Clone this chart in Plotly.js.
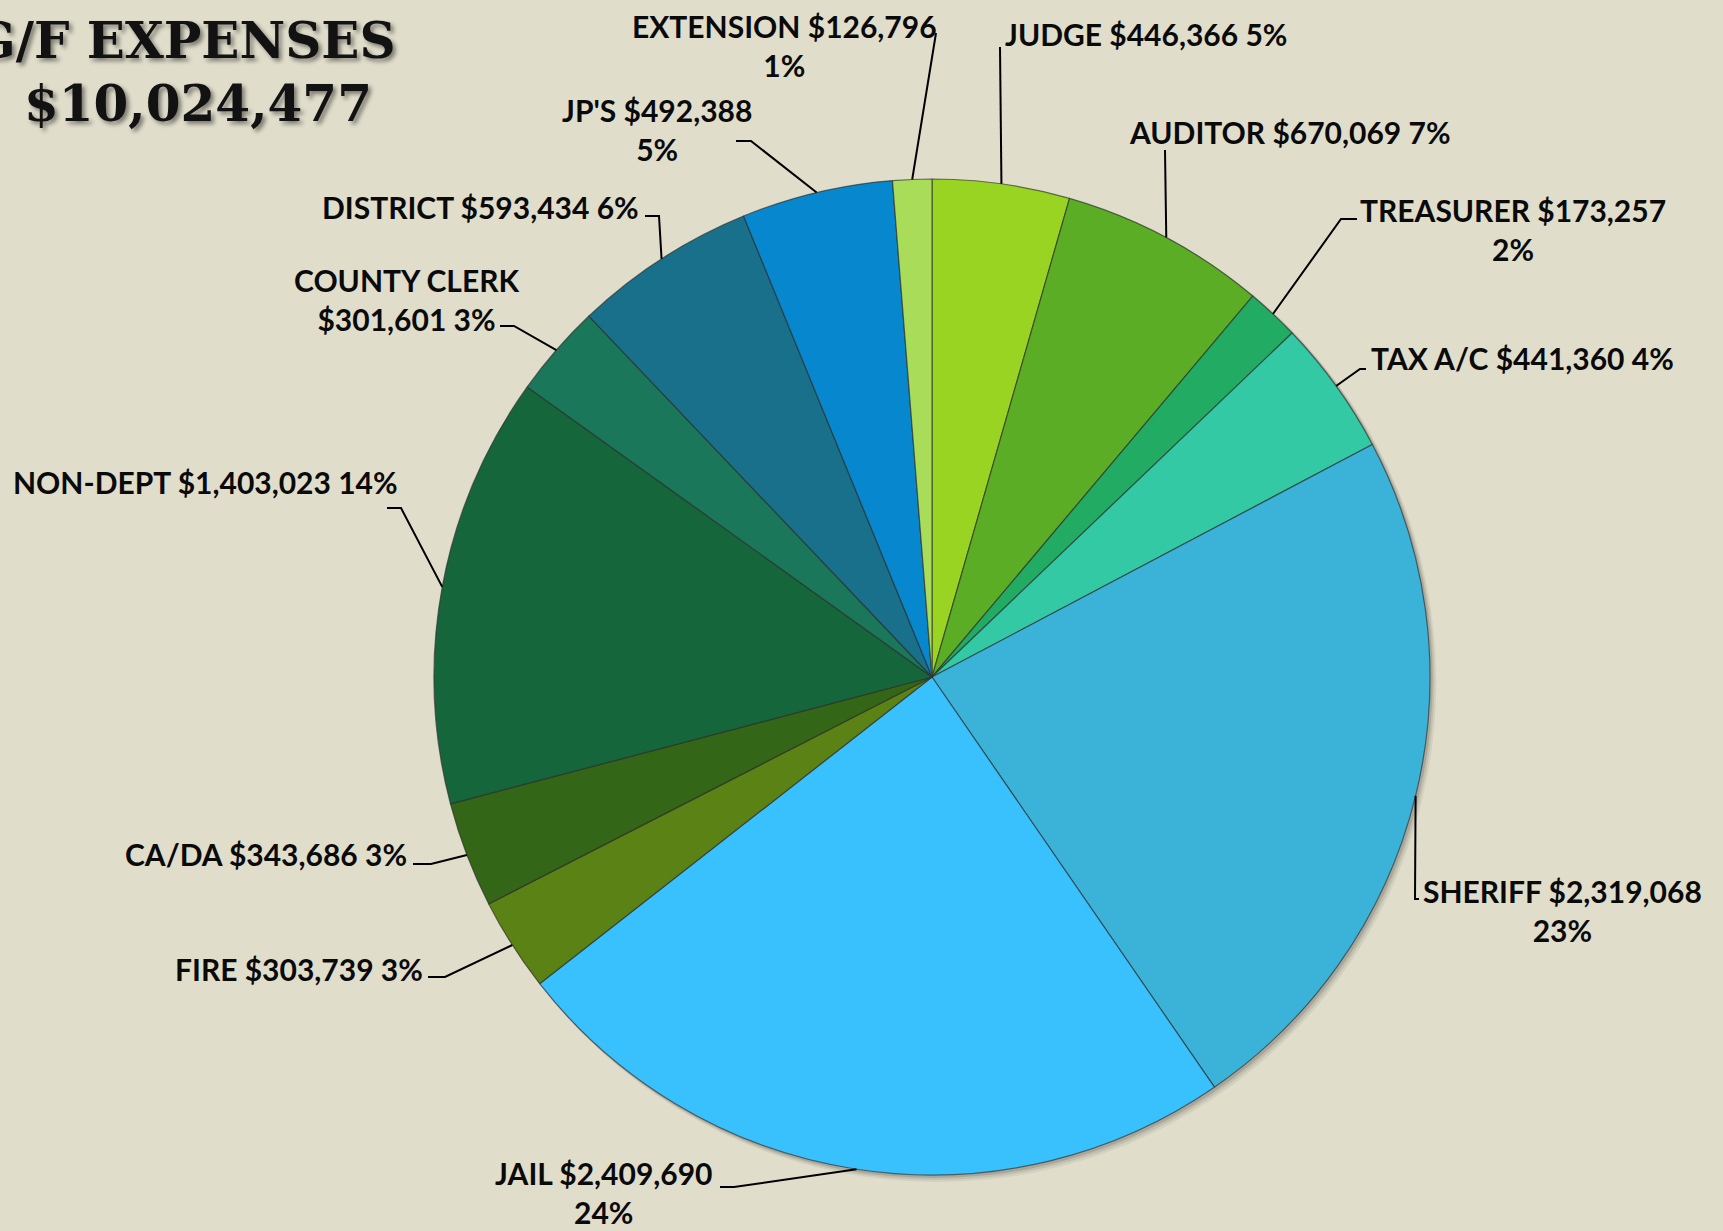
<!DOCTYPE html>
<html><head><meta charset="utf-8">
<script src="https://cdn.plot.ly/plotly-3.0.1.min.js"></script>
<style>html,body{margin:0;padding:0;background:#e0ddcb;overflow:hidden;}</style>
</head><body>
<div id="chart" style="width:1723px;height:1231px;"></div>
<script>
// ---------- DATA ----------
const categories = ["JUDGE","AUDITOR","TREASURER","TAX A/C","SHERIFF","JAIL","FIRE","CA/DA","NON-DEPT","COUNTY CLERK","DISTRICT","JP'S","EXTENSION"];
const values = [446366,670069,173257,441360,2319068,2409690,303739,343686,1403023,301601,593434,492388,126796];
const percentLabels = [5,7,2,4,23,24,3,3,14,3,6,5,1];
const titleLine1 = "G/F EXPENSES";
const titleLine2 = "$10,024,477";

// ---------- STYLE / LAYOUT ----------
const sliceColors = ["#99d423","#5aad25","#22ab62","#32c9a4","#3bb3d8","#38c1fd","#5b8214","#336617","#16663c","#1a7759","#18708a","#0787cd","#a9dc58"];
const W = 1723, H = 1231;
const CX = 932, CY = 677, R = 498;   // pie geometry in px
// label placement: text anchor, alignment, line-break style, leader elbow & tail (px)
const labelLayout = [
  {t:[1003,34],  a:"left",   brk:null,   elbow:[1000,47], tail:[1000,47]},
  {t:[1127,132], a:"left",   brk:null,   elbow:[1165,150], tail:[1165,150]},
  {t:[1513,230], a:"center", brk:"pct",  elbow:[1341,219], tail:[1357,219]},
  {t:[1369,358], a:"left",   brk:null,   elbow:[1360,369], tail:[1366,369]},
  {t:[1562,910], a:"center", brk:"pct",  elbow:[1415,899], tail:[1419,899]},
  {t:[604,1192], a:"center", brk:"pct",  elbow:[734,1187], tail:[720,1187]},
  {t:[425,969],  a:"right",  brk:null,   elbow:[445,977],  tail:[428,977]},
  {t:[409,854],  a:"right",  brk:null,   elbow:[431,864],  tail:[413,864]},
  {t:[400,482],  a:"right",  brk:null,   elbow:[401,508],  tail:[387,508]},
  {t:[406,299],  a:"center", brk:"name", elbow:[514,326],  tail:[500,326]},
  {t:[641,207],  a:"right",  brk:null,   elbow:[659,216],  tail:[645,216]},
  {t:[657,130],  a:"center", brk:"pct",  elbow:[751,141],  tail:[736,141]},
  {t:[784,45],   a:"center", brk:"pct",  elbow:[936,33],   tail:[936,33]}
];

const px = x => x / W;
const py = y => 1 - y / H;
const fmt = v => "$" + v.toLocaleString("en-US");

const total = values.reduce((s, v) => s + v, 0);

const annotations = [];
const shapes = [];

// soft shadow behind the pie
[[7,0.06],[5,0.08],[3,0.12]].forEach(([d,o]) => {
  shapes.push({type:"circle", xref:"paper", yref:"paper", layer:"below",
    x0:px(CX - R + d*0.6), x1:px(CX + R + d*0.9), y0:py(CY + R + d), y1:py(CY - R + d*0.4),
    fillcolor:`rgba(0,0,0,${o})`, line:{width:0}});
});

let cum = 0;
values.forEach((v, i) => {
  const mid = (cum + v / 2) / total * 2 * Math.PI;
  cum += v;
  const ex = CX + R * Math.sin(mid);
  const ey = CY - R * Math.cos(mid);
  const L = labelLayout[i];
  let text;
  const name = categories[i], val = fmt(v), pct = percentLabels[i] + "%";
  if (L.brk === "pct") text = `${name} ${val}<br>${pct}`;
  else if (L.brk === "name") text = `${name}<br>${val} ${pct}`;
  else text = `${name} ${val} ${pct}`;
  annotations.push({
    xref:"paper", yref:"paper", x:px(L.t[0]), y:py(L.t[1]),
    xanchor:L.a, yanchor:"middle", align:"center", showarrow:false,
    text:text,
    font:{family:"Lato, 'Open Sans', sans-serif", size:30, weight:700, color:"#0a0a0a"}
  });
  shapes.push({type:"path", xref:"paper", yref:"paper", layer:"above",
    path:`M ${px(ex)},${py(ey)} L ${px(L.elbow[0])},${py(L.elbow[1])} L ${px(L.tail[0])},${py(L.tail[1])}`,
    line:{color:"#000", width:2}});
});

// title
const titleFont = {family:"'DejaVu Serif', 'Liberation Serif', serif", size:50, weight:700, color:"#121212",
  shadow:"3px 3px 4px rgba(0,0,0,0.45)"};
annotations.push({xref:"paper", yref:"paper", x:px(184), y:py(41), xanchor:"center", yanchor:"middle",
  showarrow:false, text:titleLine1, font:titleFont});
annotations.push({xref:"paper", yref:"paper", x:px(198), y:py(104), xanchor:"center", yanchor:"middle",
  showarrow:false, text:titleLine2, font:titleFont});

const trace = {
  type:"pie",
  labels:categories,
  values:values,
  sort:false,
  direction:"clockwise",
  rotation:0,
  textinfo:"none",
  hoverinfo:"label+value+percent",
  marker:{colors:sliceColors, line:{color:"rgba(45,45,45,0.65)", width:1.2}},
  domain:{x:[px(CX - R), px(CX + R)], y:[py(CY + R), py(CY - R)]}
};

Plotly.newPlot("chart", [trace], {
  width:W, height:H,
  margin:{l:0, r:0, t:0, b:0},
  paper_bgcolor:"#e0ddcb",
  plot_bgcolor:"#e0ddcb",
  showlegend:false,
  annotations:annotations,
  shapes:shapes
}, {displayModeBar:false, staticPlot:true});
</script>
</body></html>
